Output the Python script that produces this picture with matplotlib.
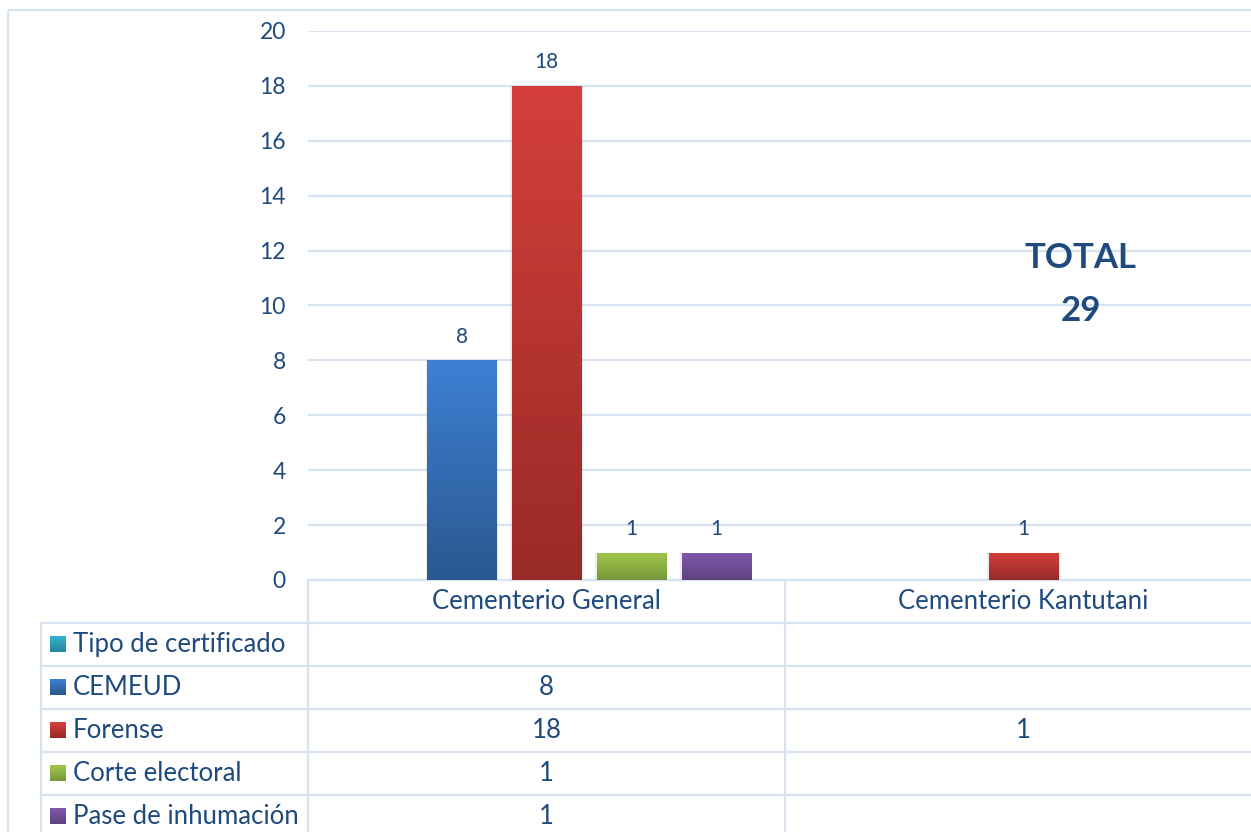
import numpy as np
import matplotlib.pyplot as plt
from matplotlib.colors import LinearSegmentedColormap
from matplotlib.patches import Rectangle

plt.rcParams['font.family'] = ['Lato', 'DejaVu Sans']

categories = ["Cementerio General", "Cementerio Kantutani"]
series_names = ["Tipo de certificado", "CEMEUD", "Forense", "Corte electoral", "Pase de inhumación"]
tipo = [np.nan, np.nan]
cemeud = [8, np.nan]
forense = [18, 1]
corte = [1, np.nan]
pase = [1, np.nan]
series_values = [tipo, cemeud, forense, corte, pase]
total = 29

# top / bottom colours of each series gradient
grad = [("#35b3cc", "#25879c"),
        ("#3d80d3", "#2b5890"),
        ("#d43f3b", "#992a27"),
        ("#a0c84b", "#77963a"),
        ("#8058ad", "#5e437f")]

text_c = "#1f4a7d"
line_c = "#d8e3f2"

W, H = 1251, 832
fig = plt.figure(figsize=(W / 100, H / 100), dpi=100)

# chart area runs a little past the right edge
ax_left, ax_right, ax_top, ax_bot = 308, 1262, 31, 580
ax = fig.add_axes([ax_left / W, 1 - ax_bot / H, (ax_right - ax_left) / W, (ax_bot - ax_top) / H])
ax.set_xlim(-0.5, len(categories) - 0.5)
ax.set_ylim(0, 20)
ax.set_yticks(range(0, 21, 2))
ax.set_xticks([])
for s in ax.spines.values():
    s.set_visible(False)
ax.tick_params(axis='y', length=0, pad=16, labelsize=16.5, labelcolor=text_c)
ax.yaxis.grid(True, color=line_c, lw=1.6)
ax.set_axisbelow(True)

bw = 0.145
step = 0.178
n = len(series_names)
x = np.arange(len(categories))
cmaps = [LinearSegmentedColormap.from_list("g%d" % i, [cb, ct]) for i, (ct, cb) in enumerate(grad)]
ramp = np.linspace(0, 1, 100).reshape(-1, 1)
for i, vals in enumerate(series_values):
    xs = x + (i - (n - 1) / 2) * step
    for xc, v in zip(xs, vals):
        if np.isnan(v):
            continue
        shadow = Rectangle((xc - bw / 2 - 0.003, 0), bw + 0.006, v, color="#000000",
                           alpha=0.07, lw=0, zorder=2)
        ax.add_patch(shadow)
        bar = Rectangle((xc - bw / 2, 0), bw, v, lw=0, facecolor="none", zorder=3)
        ax.add_patch(bar)
        im = ax.imshow(ramp, cmap=cmaps[i], origin="lower",
                       extent=[xc - bw / 2, xc + bw / 2, 0, v], aspect="auto", zorder=3)
        im.set_clip_path(bar)
        ax.annotate(f"{int(v)}", (xc, v), xytext=(0, 10), textcoords="offset points",
                    ha="center", va="bottom", fontsize=15, color=text_c)
ax.set_xlim(-0.5, len(categories) - 0.5)
ax.set_ylim(0, 20)

ax.text(1.12, 11.73, "TOTAL", ha="center", va="center", fontsize=25,
        fontweight="bold", color=text_c)
ax.text(1.12, 9.8, f"{total}", ha="center", va="center", fontsize=25,
        fontweight="bold", color=text_c)

# overlay in pixel coordinates for the frame and the data table
ov = fig.add_axes([0, 0, 1, 1], zorder=-1)
ov.set_xlim(0, W)
ov.set_ylim(H, 0)
ov.axis("off")
ov.add_patch(Rectangle((8, 10), W + 20, H + 20, fill=False, ec=line_c, lw=1.6))

fig.canvas.draw()
def col_px(xd):
    return ax.transData.transform((xd, 0))[0]

bounds = [col_px(b) for b in np.arange(-0.5, len(categories), 1.0)]
row_h = 43
tab_left = 41
rows_top = ax_bot + row_h

# header row with category names
ov.plot([ax_left, W + 20], [ax_bot, ax_bot], color=line_c, lw=1.6)
for b in bounds:
    ov.plot([b, b], [ax_bot, H + 20], color=line_c, lw=1.6)
for ci, name in enumerate(categories):
    ov.text((bounds[ci] + bounds[ci + 1]) / 2, ax_bot + row_h / 2, name,
            ha="center", va="center", fontsize=18.5, color=text_c)

# one row per series
ov.plot([tab_left, tab_left], [rows_top, H + 20], color=line_c, lw=1.6)
for r, (name, vals) in enumerate(zip(series_names, series_values)):
    y0 = rows_top + r * row_h
    ov.plot([tab_left, W + 20], [y0, y0], color=line_c, lw=1.6)
    yc = y0 + row_h / 2
    ov.imshow(ramp[::-1], cmap=cmaps[r], extent=[50, 66, yc + 8, yc - 8], aspect="auto")
    ov.text(73, yc, name, ha="left", va="center", fontsize=18.5, color=text_c)
    for ci, v in enumerate(vals):
        if not np.isnan(v):
            ov.text((bounds[ci] + bounds[ci + 1]) / 2, yc, f"{int(v)}",
                    ha="center", va="center", fontsize=18.5, color=text_c)
ov.plot([tab_left, W + 20], [rows_top + n * row_h, rows_top + n * row_h], color=line_c, lw=1.6)
ov.set_xlim(0, W)
ov.set_ylim(H, 0)

fig.savefig("out.png", dpi=100)
